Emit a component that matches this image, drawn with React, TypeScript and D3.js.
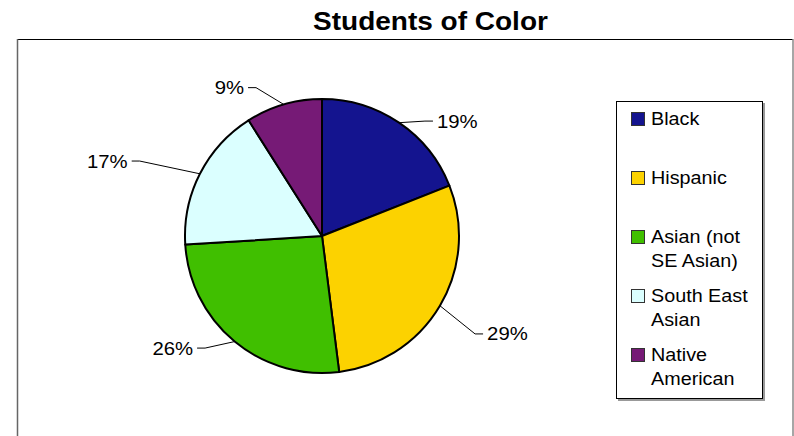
import * as d3 from "d3";

const categories = ["Black", "Hispanic", "Asian (not SE Asian)", "South East Asian", "Native American"];
const legendLines = [["Black"], ["Hispanic"], ["Asian (not", "SE Asian)"], ["South East", "Asian"], ["Native", "American"]];
const values = [19, 29, 26, 17, 9];
const colors = ["#14148f", "#fcd200", "#40bf00", "#dbffff", "#761a76"];

// where Excel left each data label: radius factor and angle nudge (deg)
const labelRadius = [1.166, 1.376, 1.225, 1.493, 1.21];
const labelNudge = [9.8, 0.7, 8.5, -5.5, -10.3];

const W = 794;
const H = 436;
const SX = 1.13; // the source font renders a bit wide
const FONT = "'Liberation Sans', Arial, Helvetica, sans-serif";

export default function App() {
  const cx = 322;
  const cy = 236;
  const r = 137;

  const pie = d3
    .pie<number>()
    .sort(null)
    .value((d) => d);
  const arcs = pie(values);
  const arc = d3.arc<d3.PieArcDatum<number>>().innerRadius(0).outerRadius(r);
  const edge = d3.arc<d3.PieArcDatum<number>>().innerRadius(r).outerRadius(r);

  const legendY = d3.scaleLinear().domain([0, categories.length - 1]).range([112, 348]);

  const labels = arcs.map((d, i) => {
    const [ex, ey] = edge.centroid(d);
    const a = (d.startAngle + d.endAngle) / 2 + (labelNudge[i] * Math.PI) / 180;
    const R = r * labelRadius[i];
    const ax = Math.sin(a) * R;
    const ay = -Math.cos(a) * R;
    const right = ax > 0;
    const elbowX = right ? ax - 8 : ax + 8;
    return {
      path: d3.line()([
        [ex, ey],
        [elbowX, ay],
        [ax, ay],
      ]),
      tx: right ? ax + 4 : ax - 4,
      ty: ay,
      anchor: right ? "start" : "end",
      text: `${values[i]}%`,
    };
  });

  return (
    <svg
      width={W}
      height={H}
      style={{ position: "absolute", left: 0, top: 0, background: "#fff" }}
      fontFamily={FONT}
    >
      <text
        transform={`translate(430.5,30) scale(1.12,1)`}
        textAnchor="middle"
        fontSize={25}
        fontWeight="bold"
      >
        Students of Color
      </text>

      {/* plot area frame */}
      <line x1={17} x2={793} y1={39.5} y2={39.5} stroke="#000" />
      <line x1={17.5} x2={17.5} y1={39} y2={H} stroke="#666" strokeWidth={1.5} />
      <line x1={793} x2={793} y1={39} y2={H} stroke="#888" strokeWidth={1.5} />

      <g transform={`translate(${cx},${cy})`}>
        {arcs.map((d, i) => (
          <path key={i} d={arc(d) ?? ""} fill={colors[i]} stroke="#000" strokeWidth={2} strokeLinejoin="round" />
        ))}
        {labels.map((l, i) => (
          <g key={i}>
            <path d={l.path ?? ""} fill="none" stroke="#000" strokeWidth={1} />
            <text
              transform={`translate(${l.tx},${l.ty}) scale(${SX},1)`}
              dy="0.36em"
              textAnchor={l.anchor}
              fontSize={18}
              fill="#000"
            >
              {l.text}
            </text>
          </g>
        ))}
      </g>

      {/* legend */}
      <rect x={618} y={103} width={147} height={298} fill="#999" />
      <rect x={616.5} y={101.5} width={146} height={297} fill="#fff" stroke="#000" />
      {categories.map((c, i) => {
        const y = legendY(i);
        return (
          <g key={c}>
            <rect x={631.5} y={y + 0.5} width={13} height={13} fill={colors[i]} stroke="#333" />
            {legendLines[i].map((line, j) => (
              <text
                key={j}
                transform={`translate(651,${y + 13 + j * 24}) scale(${SX},1)`}
                fontSize={17.5}
                fill="#000"
              >
                {line}
              </text>
            ))}
          </g>
        );
      })}
    </svg>
  );
}
